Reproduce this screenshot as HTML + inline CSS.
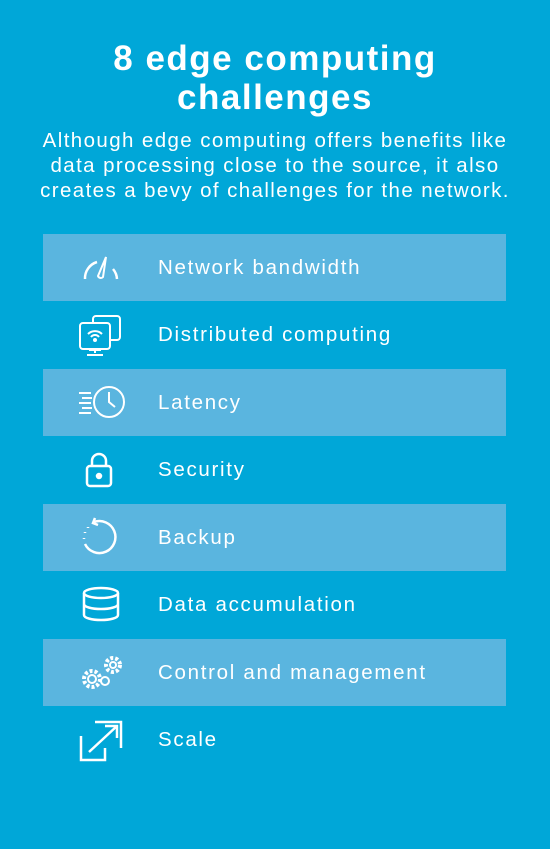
<!DOCTYPE html>
<html><head><meta charset="utf-8"><style>
body{margin:0;width:550px;height:849px;background:#00a7d8;font-family:"Liberation Sans",sans-serif;color:#fff;overflow:hidden;position:relative}
h1{position:absolute;top:39px;left:0;width:550px;margin:0;text-align:center;font-size:35px;line-height:39px;font-weight:bold;letter-spacing:1.5px}
p{position:absolute;top:128px;left:0;width:550px;margin:0;text-align:center;font-size:20.5px;line-height:25px;letter-spacing:1.4px}
.row{position:absolute;left:43px;width:463px;height:67px}
.hl{background:#5ab5df}
.row span{position:absolute;left:115px;top:0px;line-height:67px;font-size:20.5px;letter-spacing:1.7px}
.row svg{position:absolute;left:34px;top:12px}
</style></head><body>
<h1>8 edge computing<br>challenges</h1>
<p>Although edge computing offers benefits like<br>data processing close to the source, it also<br>creates a bevy of challenges for the network.</p>
<div class="row hl" style="top:234px"><svg width="48" height="44" fill="none" stroke="#fff" stroke-width="2.5"><path d="M8 33 A17 17 0 0 1 20 16"/><path d="M36 23 A17 17 0 0 1 40 33"/><path d="M29 11 L21 30 A3 3 0 0 0 26 31 Z" stroke-width="2"/></svg><span>Network bandwidth</span></div>
<div class="row" style="top:301px"><svg width="48" height="46" fill="none" stroke="#fff" stroke-width="2"><rect x="16" y="3" width="27" height="24" rx="3"/><rect x="3" y="10" width="30" height="26" rx="3" fill="#00a7d8"/><path d="M12 37h12M18 36v4M10 42h16"/><path d="M11 21a10 10 0 0 1 14 0M14 24a5 5 0 0 1 8 0"/><circle cx="18" cy="27" r="1" fill="#fff"/></svg><span>Distributed computing</span></div>
<div class="row hl" style="top:369px"><svg width="52" height="44" fill="none" stroke="#fff" stroke-width="2"><circle cx="32" cy="21" r="15"/><path d="M32 11v10l6 5M2 12h12M5 17h10M2 22h12M5 27h10M2 32h12"/></svg><span>Latency</span></div>
<div class="row" style="top:436px"><svg width="48" height="44" fill="none" stroke="#fff" stroke-width="2.5"><rect x="10" y="18" width="24" height="20" rx="3"/><path d="M15 18v-5a7 7 0 0 1 14 0v5"/><circle cx="22" cy="28" r="2" fill="#fff"/></svg><span>Security</span></div>
<div class="row hl" style="top:504px"><svg width="48" height="44" fill="none" stroke="#fff" stroke-width="2.5"><path d="M17 6 A16 16 0 1 1 8 28"/><path d="M18 2l-2 5 5 2"/><path d="M7 22v1M8 16v1M11 11v1" stroke-dasharray="2 3"/></svg><span>Backup</span></div>
<div class="row" style="top:571px"><svg width="48" height="44" fill="none" stroke="#fff" stroke-width="2.5"><ellipse cx="24" cy="10" rx="17" ry="5"/><path d="M7 10v22c0 3 8 5 17 5s17-2 17-5V10M7 21c0 3 8 5 17 5s17-2 17-5"/></svg><span>Data accumulation</span></div>
<div class="row hl" style="top:639px"><svg width="52" height="44" fill="none" stroke="#fff" stroke-width="2"><circle cx="15" cy="28" r="8" stroke-dasharray="3 2" stroke-width="4"/><circle cx="15" cy="28" r="4"/><circle cx="36" cy="14" r="7" stroke-dasharray="3 2" stroke-width="4"/><circle cx="36" cy="14" r="3"/><circle cx="28" cy="30" r="4"/></svg><span>Control and management</span></div>
<div class="row" style="top:706px"><svg width="48" height="46" fill="none" stroke="#fff" stroke-width="2.5"><path d="M18 4h26v26"/><path d="M4 18v24h24V30"/><path d="M12 34L40 8M28 8h12v12"/></svg><span>Scale</span></div>
</body></html>
